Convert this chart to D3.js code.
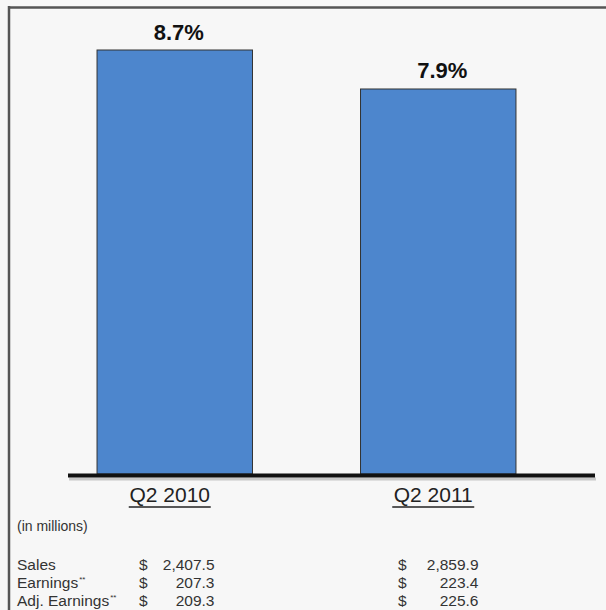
<!DOCTYPE html>
<html>
<head>
<meta charset="utf-8">
<script src="https://cdn.jsdelivr.net/npm/d3@7"></script>
<style>
  body { margin: 0; background: #f7f7f7; }
  svg { display: block; font-family: "Liberation Sans", Arial, sans-serif; }
</style>
</head>
<body>
<div id="chart"></div>
<script>
// margin data
const periods = ['Q2 2010', 'Q2 2011'];
const margins = [8.7, 7.9];

// table under the chart
const rowLabels = ['Sales', 'Earnings', 'Adj. Earnings'];
const rowMarks = ['', '**', '**'];
const sales = [2407.5, 2859.9];
const earnings = [207.3, 223.4];
const adjEarnings = [209.3, 225.6];

const W = 606, H = 610;
const baseY = 474;

const svg = d3.select('#chart').append('svg')
	.attr('width', W)
	.attr('height', H);

svg.append('rect')
	.attr('width', W).attr('height', H)
	.attr('fill', '#f7f7f7');

// frame (top + left only, picture is cropped)
svg.append('line')
	.attr('x1', 8).attr('x2', W).attr('y1', 7.5).attr('y2', 7.5)
	.attr('stroke', '#555').attr('stroke-width', 2.5);
svg.append('line')
	.attr('x1', 9).attr('x2', 9).attr('y1', 6).attr('y2', H)
	.attr('stroke', '#555').attr('stroke-width', 2.5);

const x = d3.scaleBand()
	.domain(periods)
	.range([-11, 624])
	.padding(0.41);

const y = d3.scaleLinear()
	.domain([0, 8.7])
	.range([baseY, 50]);

// bars
svg.selectAll('rect.bar')
	.data(periods)
	.enter().append('rect')
	.attr('class', 'bar')
	.attr('x', d => x(d))
	.attr('y', (d, i) => y(margins[i]))
	.attr('width', x.bandwidth())
	.attr('height', (d, i) => baseY - y(margins[i]))
	.attr('fill', '#4d86cd')
	.attr('stroke', '#333')
	.attr('stroke-width', 1);

// value labels
svg.selectAll('text.val')
	.data(periods)
	.enter().append('text')
	.attr('class', 'val')
	.attr('x', d => x(d) + x.bandwidth() / 2 + 4)
	.attr('y', (d, i) => y(margins[i]) - 10.5)
	.attr('text-anchor', 'middle')
	.attr('font-size', 22)
	.attr('font-weight', 'bold')
	.attr('fill', '#111')
	.text((d, i) => margins[i].toFixed(1) + '%');

// baseline with soft shadow
svg.append('line')
	.attr('x1', 69).attr('x2', 596).attr('y1', baseY + 5).attr('y2', baseY + 5)
	.attr('stroke', '#c8c8c8').attr('stroke-width', 3);
svg.append('line')
	.attr('x1', 68).attr('x2', 595).attr('y1', baseY + 1.5).attr('y2', baseY + 1.5)
	.attr('stroke', '#111').attr('stroke-width', 4);

// period headings under the bars
svg.selectAll('text.period')
	.data(periods)
	.enter().append('text')
	.attr('class', 'period')
	.attr('x', d => x(d) + x.bandwidth() / 2 - 5)
	.attr('y', 502)
	.attr('text-anchor', 'middle')
	.attr('font-size', 21)
	.attr('fill', '#222')
	.text(d => d);

// underlines drawn by hand to sit a bit lower than the default
svg.selectAll('line.uline')
	.data(periods)
	.enter().append('line')
	.attr('class', 'uline')
	.attr('x1', d => x(d) + x.bandwidth() / 2 - 5 - 41)
	.attr('x2', d => x(d) + x.bandwidth() / 2 - 5 + 41)
	.attr('y1', 507).attr('y2', 507)
	.attr('stroke', '#222').attr('stroke-width', 1.5);

// table columns
const labelX = 17;
const colDollar = [139, 398];
const colValueEnd = [214.5, 478.5];
const fmt = d3.format(',.1f');

svg.append('text')
	.attr('x', labelX).attr('y', 531)
	.attr('font-size', 14)
	.attr('fill', '#333')
	.text('(in millions)');

const rows = [sales, earnings, adjEarnings];
const rowY = [570, 588, 606];

rows.forEach((vals, r) => {
	const t = svg.append('text')
		.attr('x', labelX).attr('y', rowY[r])
		.attr('font-size', 15.5)
		.attr('fill', '#333')
		.text(rowLabels[r]);
	if (rowMarks[r]) {
		t.append('tspan')
			.attr('dx', 1)
			.attr('dy', -6)
			.attr('font-size', 8)
			.text(rowMarks[r]);
	}
	vals.forEach((v, c) => {
		svg.append('text')
			.attr('x', colDollar[c]).attr('y', rowY[r])
			.attr('font-size', 15.5)
			.attr('fill', '#333')
			.text('$');
		svg.append('text')
			.attr('x', colValueEnd[c]).attr('y', rowY[r])
			.attr('text-anchor', 'end')
			.attr('font-size', 15.5)
			.attr('fill', '#333')
			.text(fmt(v));
	});
});
</script>
</body>
</html>
